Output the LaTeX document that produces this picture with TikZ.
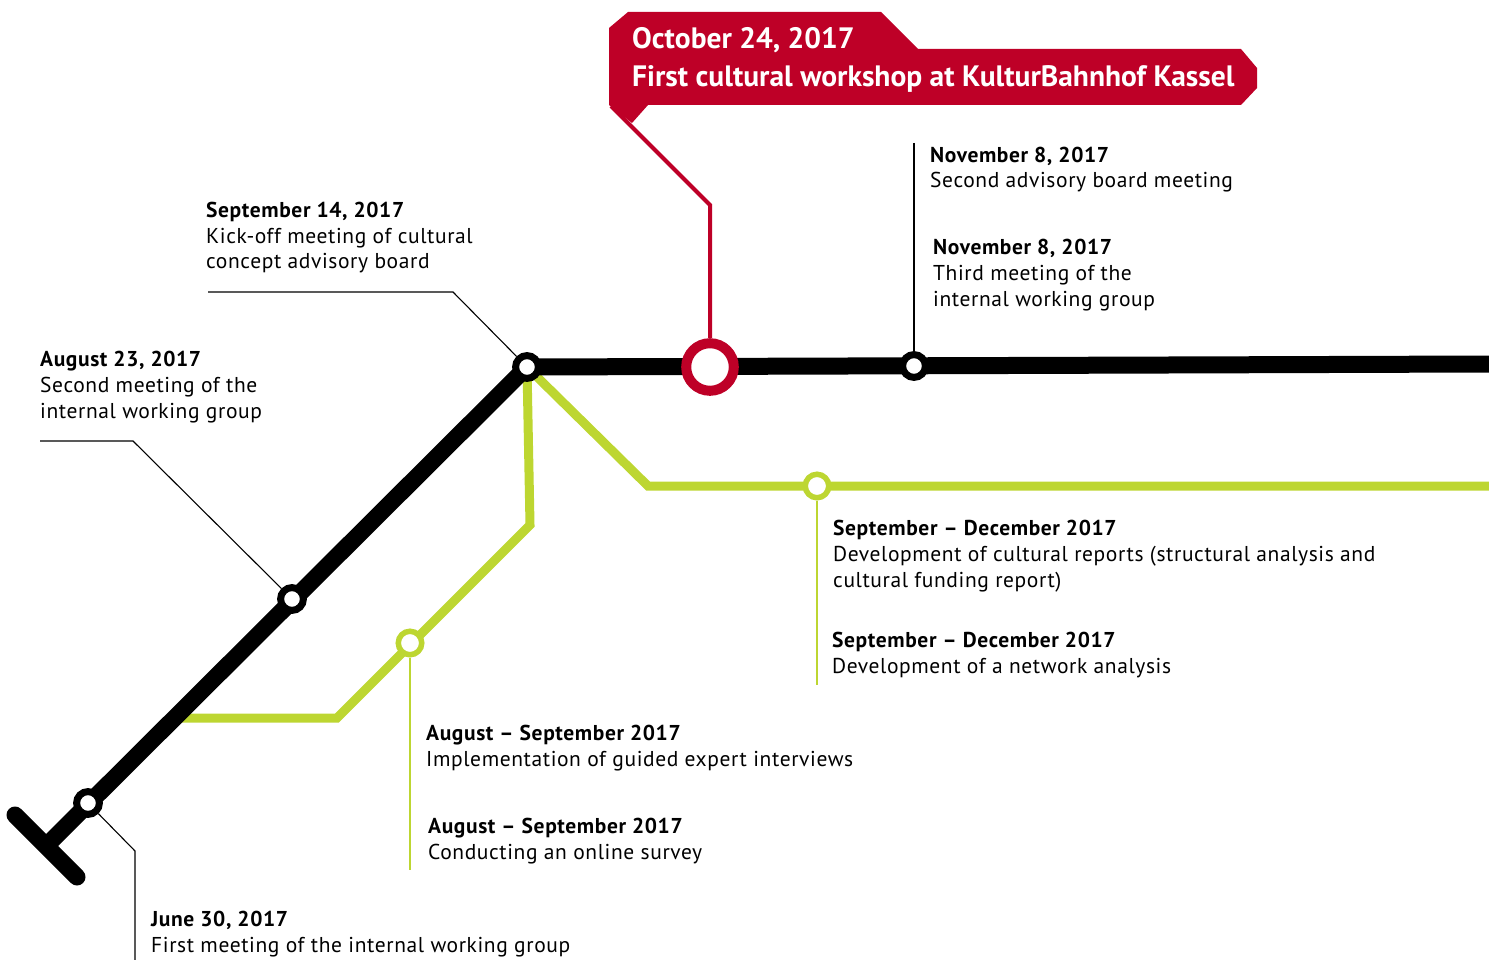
\documentclass[tikz,border=0pt]{standalone}
\usepackage{fontspec}
\setmainfont{PT Sans}[LetterSpace=2.8]
\newfontfamily\calloutfont{PT Sans}
\definecolor{kred}{HTML}{BE0027}
\definecolor{kgreen}{HTML}{BDD631}
\tikzset{
  blackline/.style={line width=17pt, black},
  greenline/.style={line width=9pt, kgreen, line join=miter},
  bstation/.style={circle, fill=white, draw=black, line width=7pt, minimum size=22.8pt, inner sep=0pt},
  gstation/.style={circle, fill=white, draw=kgreen, line width=5.5pt, minimum size=23.5pt, inner sep=0pt},
  rstation/.style={circle, fill=white, draw=kred, line width=10pt, minimum size=47.6pt, inner sep=0pt},
  leader/.style={line width=1.1pt, black},
  gleader/.style={line width=1.6pt, kgreen},
  label/.style={anchor=base west, align=left, inner sep=0pt, font=\fontsize{21.5pt}{25.7pt}\selectfont, text=black},
}
\begin{document}
\begin{tikzpicture}[x=1pt, y=-1pt]
\useasboundingbox (0,0) rectangle (1489,960);
% coordinates
\coordinate (tA) at (15,815);
\coordinate (tB) at (77,877);
\coordinate (tM) at (46,846);
\coordinate (sJun) at (88,803);
\coordinate (sAug) at (292,599);
\coordinate (sSep) at (527,367);
\coordinate (sOct) at (710,367);
\coordinate (sNov) at (914,366);
\coordinate (eBlack) at (1489,364);
\coordinate (g1) at (530,525);
\coordinate (g2) at (337,718);
\coordinate (g3) at (180,718);
\coordinate (gS1) at (410,643);
\coordinate (g4) at (648,486);
\coordinate (gS2) at (817,486);
\coordinate (eGreen) at (1489,486);
% green lines
\draw[greenline] (sSep) -- (g1) -- (g2) -- (g3);
\draw[greenline] (sSep) -- (g4) -- (eGreen);
% black line
\draw[blackline, line cap=round] (tA) -- (tB);
\draw[blackline, line join=miter] (tM) -- (sSep) -- (eBlack);
% red callout
\fill[kred] (609,28) -- (628,12) -- (881,12) -- (918,49) -- (1241,49) -- (1257,68) -- (1257,88) -- (1241,105) -- (648,105) -- (632,123) -- (609,105) -- cycle;
\coordinate (rl1) at (611,106);
\coordinate (rl2) at (710,205);
% stations
\node[bstation] (stJun) at (sJun) {};
\node[bstation] (stAug) at (sAug) {};
\node[bstation] (stSep) at (sSep) {};
\node[bstation] (stNov) at (sNov) {};
\node[rstation] (stOct) at (sOct) {};
\node[gstation] (stG1) at (gS1) {};
\node[gstation] (stG2) at (gS2) {};
% red leader
\draw[kred, line width=4pt, line join=miter] (rl1) -- (rl2) -- (stOct.north);
% callout text (anchor at baseline of last line)
\node[anchor=base west, inner sep=0pt, text=white, align=left, font=\calloutfont\bfseries\fontsize{29.5pt}{38pt}\selectfont] (callout) at (632,87)
  {October 24, 2017\\First cultural workshop at KulturBahnhof Kassel};
% black leaders
\coordinate (lSep) at (453,292);
\coordinate (lSepE) at (208,292);
\draw[leader] (lSepE) -- (lSep) -- (stSep);
\coordinate (lAug) at (133,441);
\coordinate (lAugE) at (40,441);
\draw[leader] (lAugE) -- (lAug) -- (stAug);
\coordinate (lJun) at (135,851);
\coordinate (lJunE) at (135,960);
\draw[leader] (stJun) -- (lJun) -- (lJunE);
\coordinate (lNov) at (914,143);
\draw[leader] (lNov) -- (stNov);
% green leaders
\coordinate (lG1) at (410,870);
\draw[gleader] (stG1) -- (lG1);
\coordinate (lG2) at (817,685);
\draw[gleader] (stG2) -- (lG2);
% labels (anchored at baseline of last line)
\node[label] (tNov1) at (930,188) {\textbf{November 8, 2017}\\Second advisory board meeting};
\node[label] (tNov2) at (933,306) {\textbf{November 8, 2017}\\Third meeting of the\\internal working group};
\node[label] (tSep) at (206,269) {\textbf{September 14, 2017}\\Kick-off meeting of cultural\\concept advisory board};
\node[label] (tAug) at (40,418) {\textbf{August 23, 2017}\\Second meeting of the\\internal working group};
\node[label] (tSD1) at (833,587) {\textbf{September – December 2017}\\Development of cultural reports (structural analysis and\\cultural funding report)};
\node[label] (tSD2) at (832,673) {\textbf{September – December 2017}\\Development of a network analysis};
\node[label] (tAS1) at (426,766) {\textbf{August – September 2017}\\Implementation of guided expert interviews};
\node[label] (tAS2) at (428,859) {\textbf{August – September 2017}\\Conducting an online survey};
\node[label] (tJun) at (151,952) {\textbf{June 30, 2017}\\First meeting of the internal working group};
\end{tikzpicture}
\end{document}
